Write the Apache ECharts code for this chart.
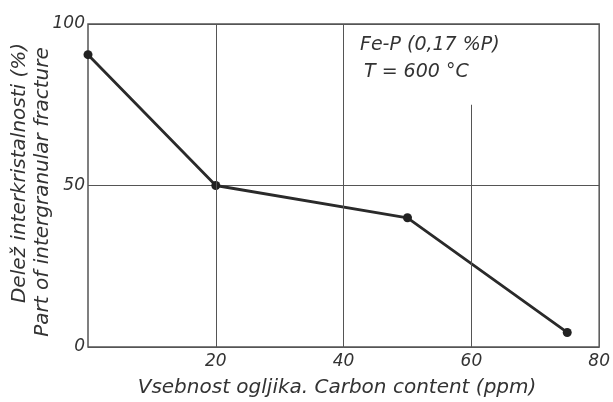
<!DOCTYPE html>
<html>
<head>
<meta charset="utf-8">
<script src="https://cdn.jsdelivr.net/npm/echarts@6/dist/echarts.min.js"></script>
<style>
  html, body { margin: 0; padding: 0; background: #fff; }
  #chart { width: 613px; height: 402px; }
</style>
</head>
<body>
<div id="chart"></div>
<script>
// carbon content (ppm) vs part of intergranular fracture (%)
var carbon = [0, 20, 50, 75];
var fracture = [90.5, 50, 40, 4.5];
var xTicks = [0, 20, 40, 60, 80];
var yTicks = [0, 50, 100];
// full height grid lines and the short one under the note box
var fullLines = [20, 40];
var shortLine = { x: 60, from: 0, to: 75 };

var ink = '#333';

var chart = echarts.init(document.getElementById('chart'));

var lineData = fullLines.map(function (v) { return { xAxis: v }; });
lineData.push([{ coord: [shortLine.x, shortLine.from] }, { coord: [shortLine.x, shortLine.to] }]);

chart.setOption({
  animation: false,
  grid: {
    left: 88, right: 8, top: 24, bottom: 55,
    show: true, borderColor: '#555', borderWidth: 1.5
  },
  xAxis: {
    type: 'value',
    min: xTicks[0],
    max: xTicks[xTicks.length - 1],
    interval: 20,
    axisLine: { show: false },
    axisTick: { show: false },
    splitLine: { show: false },
    axisLabel: {
      showMinLabel: false,
      color: ink, fontFamily: 'DejaVu Sans', fontStyle: 'italic', fontSize: 17, margin: 6
    }
  },
  yAxis: {
    type: 'value',
    min: yTicks[0],
    max: yTicks[yTicks.length - 1],
    interval: 50,
    axisLine: { show: false },
    axisTick: { show: false },
    splitLine: { show: true, lineStyle: { color: '#555', width: 1 } },
    axisLabel: {
      color: ink, fontFamily: 'DejaVu Sans', fontStyle: 'italic', fontSize: 17, margin: 3
    }
  },
  series: [{
    type: 'line',
    data: carbon.map(function (c, i) { return [c, fracture[i]]; }),
    symbol: 'circle',
    symbolSize: 9,
    itemStyle: { color: '#222' },
    lineStyle: { color: '#2a2a2a', width: 2.8 },
    markLine: {
      silent: true,
      symbol: 'none',
      label: { show: false },
      lineStyle: { color: '#555', width: 1, type: 'solid' },
      data: lineData
    }
  }],
  graphic: [
    {
      type: 'text', x: 20, y: 173, rotation: Math.PI / 2,
      style: {
        text: 'Delež interkristalnosti (%)', fill: ink,
        font: 'italic 20px "DejaVu Sans"', align: 'center', verticalAlign: 'middle'
      }
    },
    {
      type: 'text', x: 43, y: 192, rotation: Math.PI / 2,
      style: {
        text: 'Part of intergranular fracture', fill: ink,
        font: 'italic 20px "DejaVu Sans"', align: 'center', verticalAlign: 'middle'
      }
    },
    {
      type: 'text', x: 337, y: 388,
      style: {
        text: 'Vsebnost ogljika. Carbon content (ppm)', fill: ink,
        font: 'italic 20px "DejaVu Sans"', align: 'center', verticalAlign: 'middle'
      }
    },
    {
      type: 'text', x: 360, y: 45,
      style: {
        text: 'Fe-P (0,17 %P)', fill: ink,
        font: 'italic 19px "DejaVu Sans"', align: 'left', verticalAlign: 'middle'
      }
    },
    {
      type: 'text', x: 364, y: 72,
      style: {
        text: 'T = 600 °C', fill: ink,
        font: 'italic 19px "DejaVu Sans"', align: 'left', verticalAlign: 'middle'
      }
    }
  ]
});
</script>
</body>
</html>
